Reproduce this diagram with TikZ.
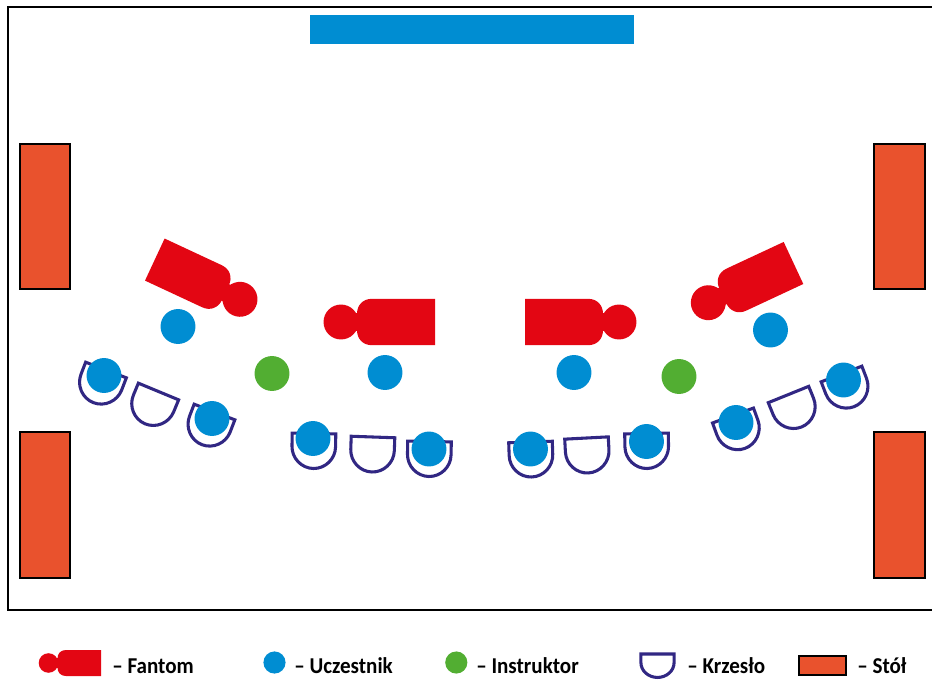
\documentclass[tikz,border=0pt]{standalone}
\usepackage{fontspec}
\setmainfont[FakeStretch=0.93]{Carlito}
\definecolor{cblue}{HTML}{008DD2}
\definecolor{cred}{HTML}{E30613}
\definecolor{cgreen}{HTML}{52AE32}
\definecolor{cnavy}{HTML}{312783}
\definecolor{corange}{HTML}{E9522D}
\tikzset{
  person/.style={fill=cblue,draw=none},
  tablebox/.style={draw=black,fill=corange,line width=1.5pt},
  legendtext/.style={anchor=base west,inner sep=0pt,font=\bfseries\fontsize{17}{19}\selectfont,text=black},
  pics/chair/.style={code={
    \draw[cnavy,line width=2.3pt,line join=miter,fill=white]
      (-21.8,0) -- (21.8,0) -- (21.8,13) .. controls (21.8,25) and (12,35) .. (0,35)
      .. controls (-12,35) and (-21.8,25) .. (-21.8,13) -- cycle;
  }},
  pics/fantom/.style={code={
    \fill[cred] (94,-23.2) -- (31,-23.2) .. controls (22,-23.2) and (16,-17) .. (16,-8)
      -- (16,8) .. controls (16,17) and (22,23.2) .. (31,23.2) -- (94,23.2) -- cycle;
    \fill[cred] (0,0) circle[radius=13.1pt];
    \fill[cred] (10,-9) rectangle (18,9);
  }}
}
\begin{document}
\begin{tikzpicture}[x=0.75pt,y=-0.75pt]
\useasboundingbox (0,0) rectangle (932,679);
\draw[black,line width=1.6pt] (940,7) -- (8,7) -- (8,610) -- (940,610);
\fill[cblue] (310,15) rectangle (634,44);
\draw[tablebox] (19.5,143.5) rectangle (70,289);
\draw[tablebox] (19.5,432) rectangle (70,578);
\draw[tablebox] (874,143.5) rectangle (924.5,289);
\draw[tablebox] (874,432) rectangle (924.5,578);
% fantoms
\pic[rotate=155] at (240,299.3) {fantom};
\pic at (341,322) {fantom};
\pic[rotate=180] at (619,322) {fantom};
\pic[rotate=25] at (708.3,302.7) {fantom};
% chairs
\pic[rotate=-21] at (106,370) {chair};
\pic[rotate=-22.5] at (158.5,391.5) {chair};
\pic[rotate=-21] at (214.5,412) {chair};
\pic[rotate=-1] at (314,433.5) {chair};
\pic[rotate=-2] at (373,437) {chair};
\pic[rotate=-1] at (429.5,441.5) {chair};
\pic[rotate=2] at (530.5,442) {chair};
\pic[rotate=3] at (586.5,438) {chair};
\pic[rotate=1] at (646.5,433.5) {chair};
\pic[rotate=20] at (733,415.5) {chair};
\pic[rotate=22] at (788.5,394.5) {chair};
\pic[rotate=21] at (841.5,374) {chair};
% participants
\foreach \x/\y in {178/326.5,104/375.5,212/418.5,385/372.5,313/438.5,429/449,574/372.5,530.5/449,646.5/441.5,770.5/330,736/422.5,843.5/380}
  \fill[person] (\x,\y) circle[radius=13.1pt];
\fill[cgreen] (272,373.5) circle[radius=13.1pt];
\fill[cgreen] (679,376.5) circle[radius=13.1pt];
% legend
\pic[scale=0.56] at (48.5,663) {fantom};
\node[legendtext] (lfantom) at (112,673) {– Fantom};
\fill[person] (274.5,662.5) circle[radius=8.3pt];
\node[legendtext] (luczestnik) at (294,673) {– Uczestnik};
\fill[cgreen] (456.3,662.5) circle[radius=8.3pt];
\node[legendtext] (linstruktor) at (476,673) {– Instruktor};
\pic[xscale=0.76,yscale=0.67] at (657.5,654) {chair};
\node[legendtext] (lkrzeslo) at (687,673) {– Krzesło};
\draw[tablebox] (798.5,655.5) rectangle (845.5,675);
\node[legendtext] (lstol) at (857,673) {– Stół};
\end{tikzpicture}
\end{document}
